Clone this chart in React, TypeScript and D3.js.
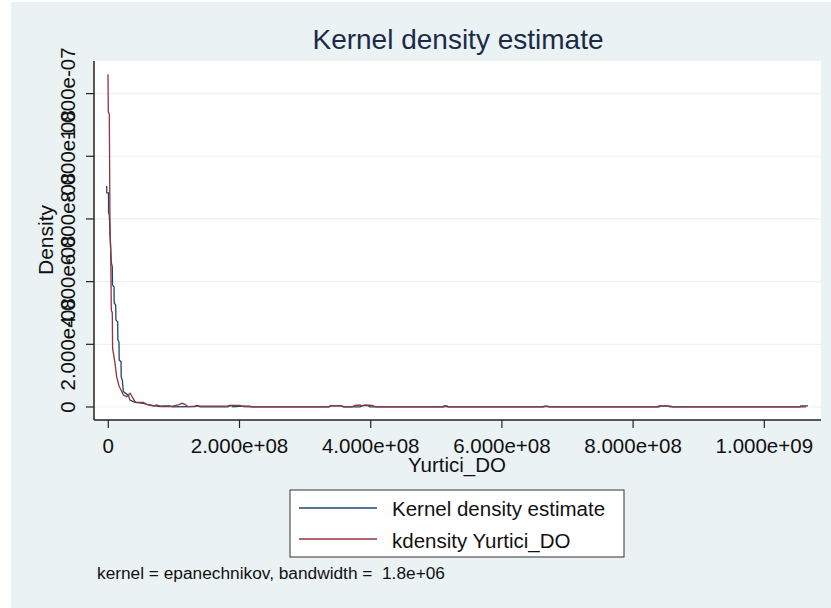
import React from "react";
import * as d3 from "d3";

// x in millions (1e6), y in units of 1e-8
const X_UNIT = 1e6;
const Y_UNIT = 1e-8;

const blueX = [-2.44, -2.3, 0.3, 0.45, 1.52, 3.05, 4.42, 6.1, 6.4, 8.69, 9.0, 11.3, 11.6, 14.3, 14.6, 16.3, 16.6, 19.4, 19.7, 21.3, 22.9, 25.5, 30.5, 33.1, 40.7, 53.4, 58.5, 68.6, 78.8, 83.4, 94.1, 97.1, 132.2, 133.7, 136.7, 139.8, 182.5, 184.0, 187.0, 190.1, 203.8, 216.0, 219.0, 336.4, 338.0, 356.3, 359.3, 383.7, 386.7, 395.9, 398.9, 510.2, 511.7, 516.3, 517.8, 662.7, 664.2, 670.3, 671.8, 837.9, 839.5, 853.2, 856.2, 1054.4, 1055.9, 1066.6];
const blueY = [7.05, 6.83, 6.83, 6.19, 6.13, 5.33, 4.63, 4.47, 3.89, 3.83, 3.32, 3.25, 2.78, 2.71, 2.14, 2.07, 1.5, 1.44, 0.96, 0.86, 0.49, 0.45, 0.38, 0.22, 0.15, 0.12, 0.086, 0.041, 0.016, 0.032, 0.032, 0.006, 0.016, 0.041, 0.041, 0.006, 0.006, 0.054, 0.054, 0.006, 0.026, 0.026, 0.006, 0.006, 0.038, 0.038, 0.006, 0.006, 0.045, 0.045, 0.006, 0.006, 0.032, 0.032, 0.006, 0.006, 0.026, 0.026, 0.006, 0.006, 0.038, 0.038, 0.006, 0.006, 0.038, 0.038];

const redX = [-0.46, 0, 1.52, 2.59, 3.66, 4.57, 6.1, 6.55, 10.2, 12.8, 16.3, 19.4, 22.9, 28.0, 33.1, 40.7, 43.3, 53.4, 58.5, 68.6, 73.8, 81.4, 94.1, 106.7, 111.9, 116.9, 122.0, 134.8, 185.5, 188.1, 200.8, 205.8, 216.0, 336.4, 339.5, 354.7, 357.8, 371.5, 376.1, 383.7, 386.7, 391.3, 402.0, 408.1, 511.7, 514.8, 517.8, 664.2, 667.2, 671.8, 839.5, 842.5, 857.8, 860.8, 1063.6];
const redY = [10.62, 9.41, 9.35, 5.65, 5.01, 3.1, 3.0, 1.88, 1.4, 0.96, 0.67, 0.54, 0.38, 0.33, 0.44, 0.17, 0.15, 0.15, 0.086, 0.032, 0.064, 0.01, 0.01, 0.064, 0.118, 0.086, 0.01, 0.026, 0.026, 0.054, 0.054, 0.016, 0.006, 0.006, 0.038, 0.038, 0.006, 0.006, 0.048, 0.064, 0.032, 0.064, 0.048, 0.006, 0.006, 0.022, 0.006, 0.006, 0.022, 0.006, 0.006, 0.026, 0.026, 0.006, 0.006];

const xTicks = [0, 2e8, 4e8, 6e8, 8e8, 1e9];
const xTickLabels = ["0", "2.000e+08", "4.000e+08", "6.000e+08", "8.000e+08", "1.000e+09"];
const yTicks = [0, 2e-8, 4e-8, 6e-8, 8e-8, 1e-7];
const yTickLabels = ["0", "2.000e-08", "4.000e-08", "6.000e-08", "8.000e-08", "1.000e-07"];

const seriesNames = ["Kernel density estimate", "kdensity Yurtici_DO"];
const seriesColors = ["#1a476f", "#90353b"];

const FONT = "'Liberation Sans', Arial, sans-serif";

export default function App() {
  const plotL = 94, plotR = 821, plotT = 61, plotB = 420;
  const x = d3.scaleLinear().domain([-21.8e6, 1086.4e6]).range([plotL, plotR]);
  const y = d3.scaleLinear().domain([-0.415e-8, 11.04e-8]).range([plotB, plotT]);

  const line = d3
    .line<[number, number]>()
    .x((d) => x(d[0]))
    .y((d) => y(d[1]));

  const blue: [number, number][] = blueX.map((v, i) => [v * X_UNIT, blueY[i] * Y_UNIT]);
  const red: [number, number][] = redX.map((v, i) => [v * X_UNIT, redY[i] * Y_UNIT]);

  return (
    <svg
      width={831}
      height={608}
      style={{ position: "absolute", left: 0, top: 0, fontFamily: FONT }}
    >
      <rect x={0} y={0} width={831} height={608} fill="#ffffff" />
      <rect x={11} y={2} width={820} height={606} fill="#eaf2f3" />
      <rect x={plotL} y={plotT} width={plotR - plotL} height={plotB - plotT} fill="#ffffff" />

      {yTicks.map((t, i) => (
        <line key={"g" + i} x1={plotL} x2={plotR} y1={y(t)} y2={y(t)} stroke="#eaf2f3" strokeWidth={1.2} />
      ))}

      <path d={line(blue) || ""} fill="none" stroke={seriesColors[0]} strokeWidth={1.3} />
      <path d={line(red) || ""} fill="none" stroke={seriesColors[1]} strokeWidth={1.3} />

      {/* axes */}
      <line x1={plotL} x2={plotL} y1={plotT} y2={plotB} stroke="#222" strokeWidth={1.5} />
      <line x1={plotL} x2={plotR} y1={plotB} y2={plotB} stroke="#222" strokeWidth={1.5} />

      {yTicks.map((t, i) => (
        <g key={"yt" + i}>
          <line x1={plotL - 8} x2={plotL} y1={y(t)} y2={y(t)} stroke="#222" strokeWidth={1.2} />
          <text
            transform={`translate(75,${y(t)}) rotate(-90)`}
            textAnchor="middle"
            fontSize={20.5}
            fill="#111"
          >
            {yTickLabels[i]}
          </text>
        </g>
      ))}
      {xTicks.map((t, i) => (
        <g key={"xt" + i}>
          <line x1={x(t)} x2={x(t)} y1={plotB} y2={plotB + 8} stroke="#222" strokeWidth={1.2} />
          <text x={x(t)} y={453} textAnchor="middle" fontSize={20.5} fill="#111">
            {xTickLabels[i]}
          </text>
        </g>
      ))}

      <text x={458} y={49} textAnchor="middle" fontSize={28} fill="#1c2a4a">
        Kernel density estimate
      </text>
      <text x={457} y={472} textAnchor="middle" fontSize={20.5} fill="#111">
        Yurtici_DO
      </text>
      <text transform="translate(53,240) rotate(-90)" textAnchor="middle" fontSize={21} fill="#111">
        Density
      </text>

      <rect x={290} y={490} width={334} height={67} fill="#ffffff" stroke="#333" strokeWidth={1} />
      {seriesNames.map((n, i) => (
        <g key={"lg" + i}>
          <line x1={299} x2={377} y1={508 + i * 31} y2={508 + i * 31} stroke={seriesColors[i]} strokeWidth={1.3} />
          <text x={392} y={516 + i * 32} fontSize={20.5} fill="#111">
            {n}
          </text>
        </g>
      ))}

      <text x={97} y={579} fontSize={17.3} fill="#111" style={{ whiteSpace: "pre" }}>
        {"kernel = epanechnikov, bandwidth =  1.8e+06"}
      </text>
    </svg>
  );
}
